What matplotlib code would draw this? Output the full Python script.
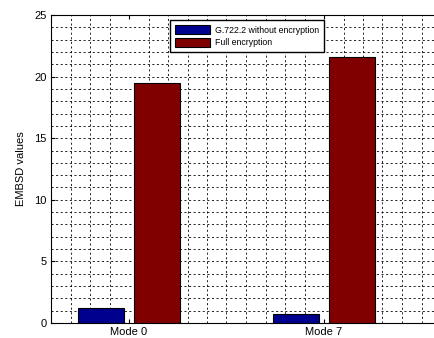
import numpy as np
import matplotlib
matplotlib.use('Agg')
import matplotlib.pyplot as plt

# EMBSD por modo de codificación
modos = ['Mode 0', 'Mode 7']
sin_cifrado = [1.2, 0.75]
cifrado_total = [19.5, 21.6]
etiquetas = ['G.722.2 without encryption', 'Full encryption']

plt.rcParams['font.family'] = ['Liberation Sans', 'DejaVu Sans']

fig = plt.figure(figsize=(4.35, 3.38), dpi=100)
ax = fig.add_axes([51 / 435, 15 / 338, 387 / 435, 308 / 338])

x = np.arange(1, len(modos) + 1)
ancho = 0.232
desp = 0.144
ax.bar(x - desp, sin_cifrado, ancho, color='#00008F', edgecolor='black',
       linewidth=0.8, label=etiquetas[0], zorder=3)
ax.bar(x + desp, cifrado_total, ancho, color='#800000', edgecolor='black',
       linewidth=0.8, label=etiquetas[1], zorder=3)

ax.set_xlim(0.6, 0.6 + 387 / 195)
ax.set_ylim(0, 25)
ax.set_xticks(x)
ax.set_xticklabels(modos)
ax.set_yticks(np.arange(0, 26, 5))
ax.tick_params(direction='in', top=True, length=3, labelsize=8, pad=3)
ax.set_ylabel('EMBSD values', fontsize=8, labelpad=6)

# rejilla punteada fina (sin líneas sobre las posiciones de los modos)
xs = np.round(np.arange(0.7, 2.6, 0.1), 2)
xs = [v for v in xs if v not in (1.0, 2.0)]
for v in xs:
    ax.axvline(v, color='black', lw=0.6, ls=(0, (2.5, 3)), zorder=1)
for v in range(1, 25):
    ax.axhline(v, color='black', lw=0.6, ls=(0, (2.5, 3)), zorder=1)

ax.spines['right'].set_visible(False)
for s in ['top', 'bottom', 'left']:
    ax.spines[s].set_linewidth(0.8)

ax.legend(loc='upper left', bbox_to_anchor=(119 / 387, 1 - 5 / 308),
          borderaxespad=0, fontsize=6.3, handlelength=4.0, handleheight=1.3,
          fancybox=False, framealpha=1, edgecolor='black', borderpad=0.55,
          labelspacing=0.35, handletextpad=0.6)

fig.savefig('out.png', dpi=100)
